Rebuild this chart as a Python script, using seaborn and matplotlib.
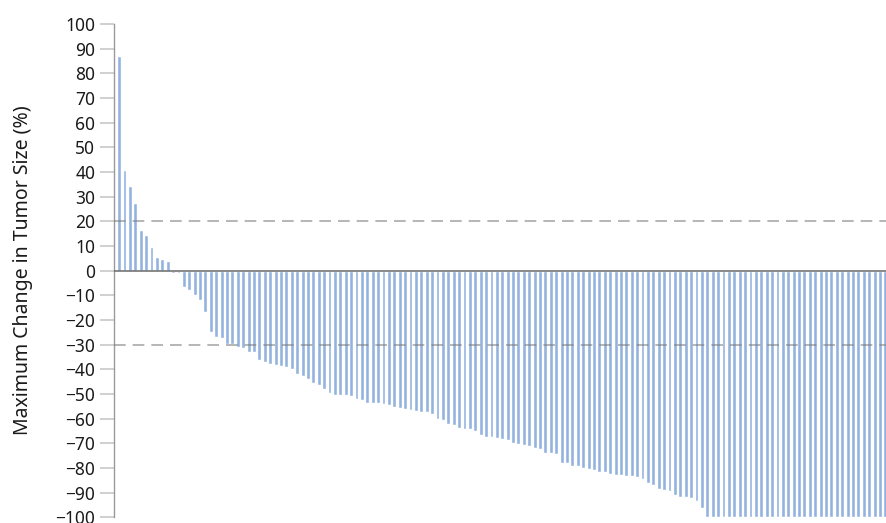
import numpy as np
import matplotlib
import matplotlib.pyplot as plt
import seaborn as sns

matplotlib.use('Agg')

# Best change in tumour size per patient, sorted
positive = [87.0, 41.0, 34.5, 27.5, 16.5, 14.5, 9.5, 5.5, 4.8, 4.0]
near_zero = [-1.0, -0.8]
block_a = [-6.7, -7.8, -9.9, -11.7, -16.9, -25.0, -27.1, -27.5, -29.6, -29.8,
           -30.8, -31.2, -32.9, -32.9, -36.4, -37.2, -37.8, -38.3, -38.6]
block_b = [-39.1, -39.8, -41.8, -42.7, -44.0, -45.5, -46.4, -47.9, -49.8, -50.5,
           -50.5, -50.5, -51.0, -52.2, -52.4, -53.6, -53.7, -53.7, -54.1, -54.3,
           -55.1, -55.5, -56.1, -56.5, -56.7, -57.4, -57.5, -58.0, -60.2, -60.6,
           -62.2, -62.4, -63.7, -64.1, -64.4, -65.1, -66.7]
block_c = [-67.3, -67.5, -67.8, -68.4, -68.8, -69.9, -70.4, -70.6, -71.1, -71.8,
           -72.3, -73.8, -74.0, -74.4, -77.9, -78.1, -79.1, -79.2, -80.2, -80.3,
           -80.7, -81.5, -81.8, -82.5, -82.7, -83.0, -83.1, -83.4, -83.7, -84.5,
           -86.0, -87.0, -88.5, -88.8, -89.2, -91.0, -91.6, -91.8, -92.1, -93.5,
           -96.1]
complete_response = [-100, -100, -100, -100, -100, -100, -100, -100, -100, -100,
                     -100, -100, -100, -100, -100, -100, -100, -100, -100, -100,
                     -100, -100, -100, -100, -100, -100, -100, -100, -100, -100,
                     -100, -100, -100, -100]

max_change = positive + near_zero + block_a + block_b + block_c + complete_response
patients = np.arange(len(max_change))

y_ticks = list(range(-100, 101, 10))
thresholds = [20, -30]   # progression / partial response lines

sns.set_style("white")
plt.rcParams['font.family'] = ['Noto Sans', 'DejaVu Sans']

fig = plt.figure(figsize=(8.87, 5.23), dpi=100)
ax = fig.add_axes([113.7 / 887, 5.7 / 523, (887 - 113.7) / 887, (517.3 - 24) / 523])

sns.barplot(x=patients, y=max_change, color='#93b3de', saturation=1,
            width=0.72, ax=ax)

# reference lines
for t in thresholds:
    ax.axhline(t, color='#7a7a7a', alpha=0.55, lw=1.4, dashes=(6, 3.6), zorder=3)
ax.axhline(0, color='#6a6a6a', lw=1.1, zorder=3)

ax.set_xlim(-1.0, 142.3)
ax.set_ylim(-100, 100)
ax.set_yticks(y_ticks)
ax.set_xticks([])
ax.set_xlabel('')

for s in ['top', 'right', 'bottom']:
    ax.spines[s].set_visible(False)
ax.spines['left'].set_color('#9a9a9a')
ax.spines['left'].set_linewidth(1.0)

ax.tick_params(axis='y', length=9.8, width=1.2, color='#c8c8c8',
               labelsize=12.5, labelcolor='#1a1a1a', pad=3.4, left=True)

ax.set_ylabel('Maximum Change in Tumor Size (%)', fontsize=14, color='#1a1a1a')
ax.yaxis.set_label_coords(-0.104, 0.5)

fig.savefig('out.png', dpi=100)
